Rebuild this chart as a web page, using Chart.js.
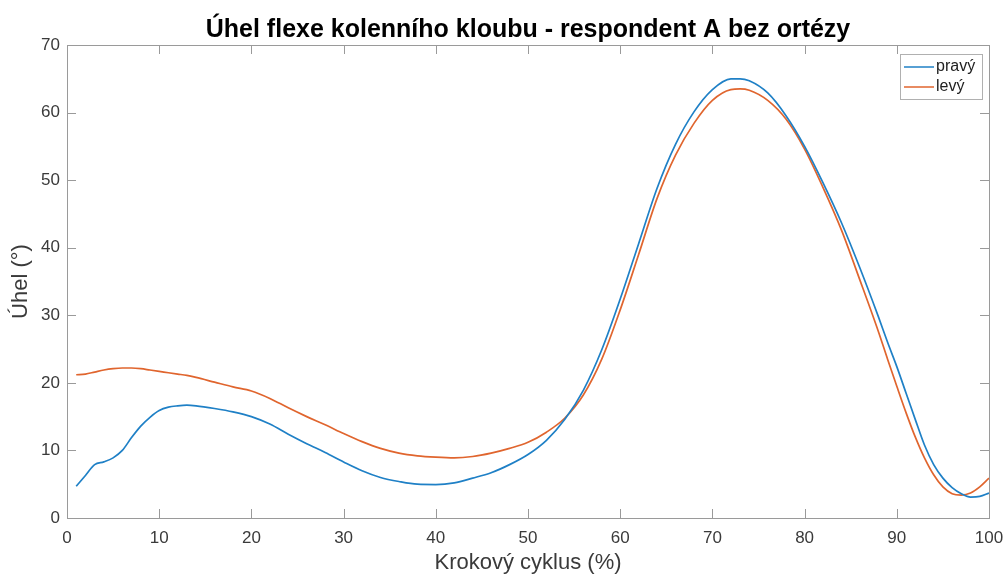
<!DOCTYPE html>
<html>
<head>
<meta charset="utf-8">
<script src="https://cdn.jsdelivr.net/npm/chart.js@4/dist/chart.umd.min.js"></script>
<style>
  html, body { margin:0; padding:0; background:#fff; }
  #wrap { width:1008px; height:576px; position:relative; }
</style>
</head>
<body>
<div id="wrap"><canvas id="c"></canvas></div>
<script>
// Knee flexion angle over the gait cycle, respondent A without orthosis
const TITLE = "Úhel flexe kolenního kloubu - respondent A bez ortézy";
const SERIES_NAMES = ["pravý", "levý"];
const xPct = [1,2,3,4,5,6,7,8,9,10,11,12,13,14,16,18,20,22,24,26,28,30,32,34,36,38,40,42,44,46,48,50,52,54,56,58,60,62,64,66,68,70,72,73,74,76,78,80,82,84,86,88,89,90,91,92,93,94,95,96,97,98,99,100];
const pravy = [4.7,6.3,7.9,8.3,8.9,10.0,11.9,13.6,14.9,15.9,16.4,16.6,16.7,16.6,16.2,15.7,15.0,13.9,12.4,11.0,9.7,8.3,7.0,6.0,5.4,5.0,4.95,5.2,5.9,6.7,7.9,9.4,11.5,14.6,18.9,24.9,32.4,40.6,48.8,55.3,60.1,63.4,65.0,65.0,64.7,62.9,59.5,55.0,49.6,43.7,37.0,29.8,26.0,22.4,18.5,14.6,10.8,7.9,5.9,4.5,3.6,3.1,3.2,3.7];
const levy  = [21.2,21.3,21.6,21.9,22.1,22.2,22.2,22.1,21.9,21.7,21.5,21.3,21.1,20.8,20.1,19.4,18.8,17.7,16.3,15.0,13.8,12.5,11.3,10.3,9.6,9.2,9.0,8.9,9.1,9.6,10.3,11.2,12.7,14.8,18.2,23.5,30.8,39.0,47.3,53.7,58.4,61.8,63.4,63.5,63.3,61.8,59.0,54.6,48.9,42.6,35.2,27.6,23.5,19.5,15.6,12.0,8.9,6.4,4.6,3.6,3.4,3.7,4.6,5.9];

const BLUE = "#1f80c6", ORANGE = "#e0652e";
const AXIS = "#9a9a9a", TXT = "#3a3a3a";
const FONT = "'Liberation Sans', Arial, sans-serif";

const pts = arr => arr.map((v, i) => ({ x: xPct[i], y: v }));

// box with inward ticks on all four sides + inner legend
const boxPlugin = {
  id: "box",
  afterDraw(chart) {
    const { ctx, chartArea: a, scales } = chart;
    const L = 9;
    ctx.save();
    ctx.strokeStyle = AXIS; ctx.lineWidth = 1;
    ctx.strokeRect(a.left + 0.5, a.top + 0.5, a.right - a.left, a.bottom - a.top);
    ctx.beginPath();
    scales.x.ticks.forEach(t => {
      const px = Math.round(scales.x.getPixelForValue(t.value)) + 0.5;
      ctx.moveTo(px, a.bottom); ctx.lineTo(px, a.bottom - L);
      ctx.moveTo(px, a.top); ctx.lineTo(px, a.top + L);
    });
    scales.y.ticks.forEach(t => {
      const py = Math.round(scales.y.getPixelForValue(t.value)) + 0.5;
      ctx.moveTo(a.left, py); ctx.lineTo(a.left + L, py);
      ctx.moveTo(a.right, py); ctx.lineTo(a.right - L, py);
    });
    ctx.stroke();

    // legend
    const bx = a.right - 89, by = a.top + 9, bw = 82, bh = 45;
    ctx.fillStyle = "#fff"; ctx.fillRect(bx, by, bw, bh);
    ctx.strokeStyle = "#b0b0b0"; ctx.strokeRect(bx + 0.5, by + 0.5, bw, bh);
    ctx.font = "16px " + FONT;
    ctx.textBaseline = "middle";
    chart.data.datasets.forEach((ds, i) => {
      const y = by + 13 + i * 20;
      ctx.strokeStyle = ds.borderColor; ctx.lineWidth = 1.5;
      ctx.beginPath(); ctx.moveTo(bx + 4, y); ctx.lineTo(bx + 34, y); ctx.stroke();
      ctx.fillStyle = "#222"; ctx.fillText(ds.label, bx + 36, y);
    });
    ctx.restore();
  }
};

new Chart(document.getElementById("c"), {
  type: "line",
  data: {
    datasets: [
      { label: SERIES_NAMES[0], data: pts(pravy), borderColor: BLUE, borderWidth: 1.7, pointRadius: 0, tension: 0.4, cubicInterpolationMode: "monotone" },
      { label: SERIES_NAMES[1], data: pts(levy), borderColor: ORANGE, borderWidth: 1.7, pointRadius: 0, tension: 0.4, cubicInterpolationMode: "monotone" }
    ]
  },
  options: {
    responsive: true, maintainAspectRatio: false, animation: false,
    layout: { padding: { left: 0, right: 19, top: 0, bottom: 0 } },
    plugins: {
      legend: { display: false },
      tooltip: { enabled: false },
      title: {
        display: true, text: TITLE, color: "#000", fullSize: false,
        font: { family: FONT, size: 25, weight: "bold", lineHeight: 1.2 },
        padding: { top: 15, bottom: 0 }
      }
    },
    scales: {
      x: {
        type: "linear", min: 0, max: 100,
        ticks: { stepSize: 10, color: TXT, padding: 10, maxRotation: 0,
          font: { family: FONT, size: 17 } },
        grid: { display: false, drawTicks: false },
        border: { display: false },
        title: { display: true, text: "Krokový cyklus (%)", color: TXT,
          font: { family: FONT, size: 22 }, padding: { top: 0, bottom: 0 } },
        afterFit: s => { s.height = 58; s.paddingLeft = 0; s.paddingRight = 0; }
      },
      y: {
        min: 0, max: 70,
        ticks: { stepSize: 10, color: TXT, padding: 7,
          font: { family: FONT, size: 17 } },
        grid: { display: false, drawTicks: false },
        border: { display: false },
        title: { display: true, text: "Úhel (°)", color: TXT,
          font: { family: FONT, size: 22 }, padding: { top: 8, bottom: 0 } },
        afterFit: s => { s.width = 67; s.paddingTop = 0; s.paddingBottom = 0; }
      }
    }
  },
  plugins: [boxPlugin]
});
</script>
</body>
</html>
